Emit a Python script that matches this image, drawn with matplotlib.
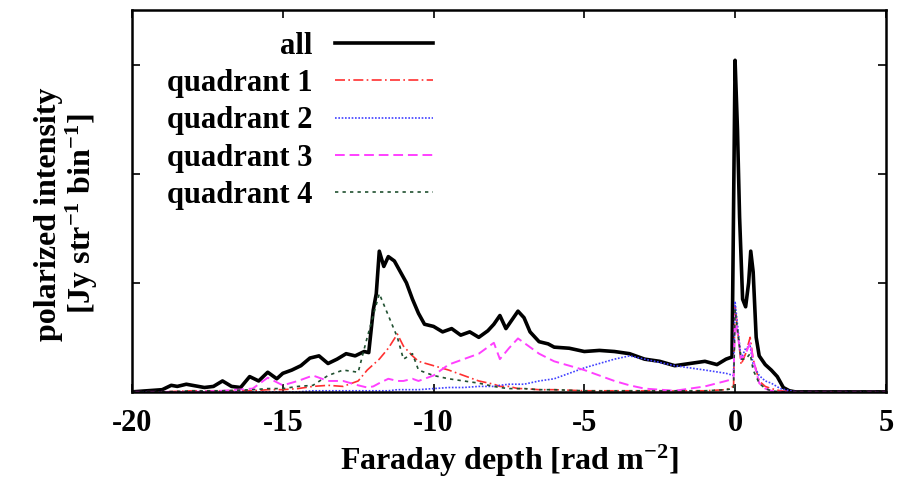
import numpy as np
import matplotlib.pyplot as plt

plt.rcParams['font.family'] = ['Liberation Serif', 'DejaVu Serif']
plt.rcParams['font.weight'] = 'bold'
plt.rcParams['axes.unicode_minus'] = False
plt.rcParams['mathtext.fontset'] = 'custom'
plt.rcParams['mathtext.rm'] = 'Liberation Serif:bold'
plt.rcParams['mathtext.bf'] = 'Liberation Serif:bold'
plt.rcParams['mathtext.default'] = 'bf'

# Faraday depth samples and polarized intensity (arbitrary units, tick spacing = 1)
phi_all = [-20, -19.5, -19, -18.7, -18.5, -18.2, -18, -17.6, -17.3, -17, -16.7, -16.4, -16.1,
           -15.8, -15.5, -15.2, -15, -14.7, -14.4, -14.1, -13.8, -13.5, -13.2, -12.9, -12.6,
           -12.3, -12.15, -12.0, -11.9, -11.8, -11.65, -11.5, -11.3, -11.1, -10.9, -10.7,
           -10.5, -10.3, -10.0, -9.7, -9.4, -9.1, -8.8, -8.5, -8.2, -8.0, -7.8, -7.6, -7.4,
           -7.2, -7.0, -6.8, -6.5, -6.2, -6.0, -5.5, -5.0, -4.5, -4.0, -3.5, -3.0, -2.5, -2.0,
           -1.5, -1.0, -0.6, -0.3, -0.1, 0.0, 0.08, 0.15, 0.25, 0.35, 0.45, 0.52, 0.6, 0.7,
           0.8, 1.0, 1.2, 1.4, 1.6, 1.8, 2.0, 3.0, 5.0]
all_q = [0.0, 0.01, 0.02, 0.06, 0.05, 0.07, 0.06, 0.04, 0.05, 0.1, 0.05, 0.04, 0.14,
         0.1, 0.18, 0.12, 0.17, 0.2, 0.24, 0.31, 0.33, 0.26, 0.3, 0.35, 0.33,
         0.37, 0.36, 0.75, 0.9, 1.29, 1.15, 1.24, 1.2, 1.1, 1.0, 0.85,
         0.72, 0.62, 0.6, 0.55, 0.58, 0.52, 0.55, 0.5, 0.56, 0.62, 0.7, 0.58, 0.66,
         0.74, 0.68, 0.55, 0.46, 0.44, 0.41, 0.4, 0.37, 0.38, 0.37, 0.35, 0.3, 0.28, 0.24,
         0.26, 0.28, 0.25, 0.3, 0.32, 3.04, 2.4, 1.6, 0.85, 0.78, 1.0, 1.29, 1.1, 0.5,
         0.33, 0.25, 0.2, 0.14, 0.04, 0.01, 0.0, 0.0, 0.0]

phi_q = [-20, -19, -18, -17, -16, -15.5, -15, -14.5, -14, -13.5, -13, -12.5, -12.2, -12,
         -11.8, -11.5, -11.2, -11, -10.7, -10.5, -10, -9.5, -9, -8.5, -8, -7.8, -7.5,
         -7.2, -7, -6.5, -6, -5, -4, -3.5, -3, -2, -1, -0.3, -0.05, 0.0, 0.2, 0.35, 0.5,
         0.6, 0.8, 1.0, 1.2, 1.5, 2.0, 5.0]
q1 = [0.0, 0.0, 0.01, 0.01, 0.01, 0.02, 0.02, 0.03, 0.05, 0.06, 0.05, 0.1, 0.2, 0.25,
      0.3, 0.4, 0.53, 0.42, 0.33, 0.28, 0.24, 0.2, 0.15, 0.1, 0.07, 0.05, 0.05,
      0.03, 0.03, 0.02, 0.02, 0.01, 0.01, 0.01, 0.01, 0.01, 0.01, 0.02, 0.05, 0.8, 0.25, 0.35, 0.5,
      0.3, 0.1, 0.05, 0.03, 0.01, 0.0, 0.0]
q2 = [0.0, 0.0, 0.0, 0.0, 0.0, 0.0, 0.0, 0.0, 0.01, 0.01, 0.01, 0.01, 0.01, 0.01,
      0.01, 0.01, 0.02, 0.02, 0.02, 0.02, 0.03, 0.04, 0.04, 0.05, 0.05, 0.06, 0.07,
      0.07, 0.07, 0.1, 0.12, 0.22, 0.3, 0.33, 0.3, 0.24, 0.2, 0.17, 0.15, 0.83, 0.3, 0.4, 0.42,
      0.25, 0.15, 0.1, 0.08, 0.03, 0.0, 0.0]
q3 = [0.0, 0.0, 0.0, 0.01, 0.03, 0.13, 0.06, 0.1, 0.15, 0.1, 0.1, 0.06, 0.04, 0.05,
      0.08, 0.12, 0.1, 0.1, 0.12, 0.1, 0.15, 0.25, 0.3, 0.35, 0.45, 0.3, 0.4,
      0.49, 0.45, 0.35, 0.28, 0.2, 0.1, 0.06, 0.03, 0.01, 0.05, 0.1, 0.12, 0.7, 0.3, 0.35, 0.45,
      0.3, 0.08, 0.03, 0.01, 0.0, 0.0, 0.0]
q4 = [0.0, 0.0, 0.01, 0.01, 0.02, 0.03, 0.03, 0.05, 0.06, 0.15, 0.2, 0.18, 0.5, 0.7,
      0.9, 0.7, 0.5, 0.3, 0.35, 0.2, 0.15, 0.12, 0.1, 0.08, 0.05, 0.04, 0.03,
      0.03, 0.03, 0.02, 0.02, 0.01, 0.01, 0.01, 0.01, 0.01, 0.01, 0.02, 0.03, 0.75, 0.3, 0.3, 0.35,
      0.2, 0.08, 0.03, 0.01, 0.0, 0.0, 0.0]

fig = plt.figure(figsize=(9.17, 4.82), dpi=100)
ax = fig.add_axes([0.144, 0.187, 0.822, 0.792])

ax.plot(phi_all, all_q, color='black', lw=2.6, label='all')
ax.plot(phi_q, q1, color='#ff3030', lw=1.2, dashes=(6, 2, 1, 2), label='quadrant 1')
ax.plot(phi_q, q2, color='#4040ff', lw=1.2, ls=(0, (1, 1)), label='quadrant 2')
ax.plot(phi_q, q3, color='#ff40ff', lw=1.4, ls=(0, (5, 2.5)), label='quadrant 3')
ax.plot(phi_q, q4, color='#205030', lw=1.2, ls=(0, (2, 2.5)), label='quadrant 4')

ax.set_xlim(-20, 5)
ax.set_ylim(0, 3.5)
ax.set_xticks([-20, -15, -10, -5, 0, 5])
ax.set_yticks([0, 1, 2, 3])
ax.set_yticklabels([])
ax.tick_params(direction='in', top=True, right=True, length=6, width=1.2,
               labelsize=22, pad=12)
for s in ax.spines.values():
    s.set_linewidth(1.8)

ax.set_xlabel('Faraday depth [rad m$^{-2}$]', fontsize=23, fontweight='bold', labelpad=4)
ax.set_ylabel('polarized intensity\n[Jy str$^{-1}$ bin$^{-1}$]', fontsize=23,
              fontweight='bold', linespacing=1.0)
ax.yaxis.set_label_coords(-0.043, 0.466)

leg = ax.legend(loc='upper left', bbox_to_anchor=(0.03, 0.975), frameon=False,
                markerfirst=False, handlelength=3.2, fontsize=22, labelspacing=0.27,
                handletextpad=0.75, borderaxespad=0.0)
for t in leg.get_texts():
    t.set_horizontalalignment('right')
    t.set_fontweight('bold')

fig.savefig('out.png', dpi=100)
